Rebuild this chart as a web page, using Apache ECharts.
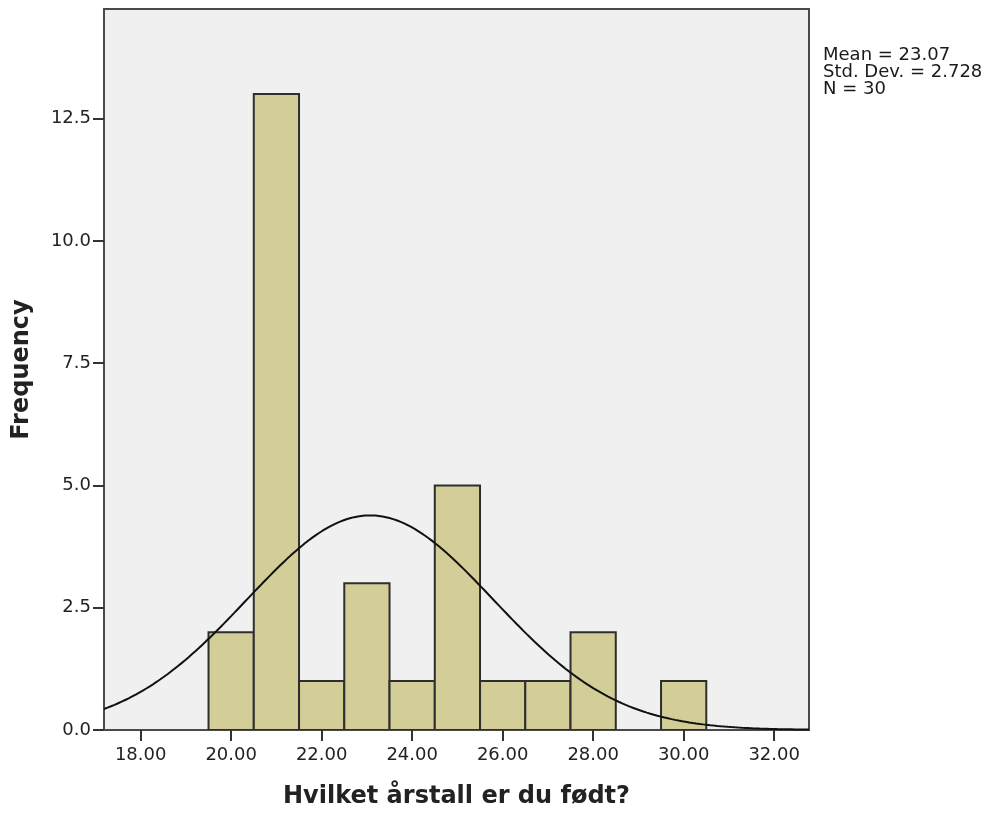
<!DOCTYPE html>
<html>
<head>
<meta charset="utf-8">
<script src="https://cdn.jsdelivr.net/npm/echarts@6/dist/echarts.min.js"></script>
<style>
html,body{margin:0;padding:0;background:#fff;}
#chart{width:990px;height:814px;}
</style>
</head>
<body>
<div id="chart"></div>
<script>
// Histogram bins (year values, bin width 1, centered on integers)
const binCenters = [20, 21, 22, 23, 24, 25, 26, 27, 28, 30];
const binCounts  = [2, 13, 1, 3, 1, 5, 1, 1, 2, 1];
const binWidth = 1;
// Summary statistics shown in the chart
const statMean = 23.07;
const statSD = 2.728;
const statN = 30;
// Tick labels
const xTicks = [18, 20, 22, 24, 26, 28, 30, 32];
const yTicks = [0, 2.5, 5, 7.5, 10, 12.5];

const xMin = 17.19, xMax = 32.77;
const yMin = 0, yMax = 14.74;

// Fitted normal curve (SPSS "display normal curve") from the stated mean/SD/N
const curve = [];
for (let i = 0; i <= 400; i++) {
  const x = xMin + (xMax - xMin) * i / 400;
  const z = (x - statMean) / statSD;
  curve.push([x, statN * binWidth * Math.exp(-0.5 * z * z) / (statSD * Math.sqrt(2 * Math.PI))]);
}

const barData = binCenters.map((c, i) => [c - binWidth / 2, c + binWidth / 2, binCounts[i]]);

const font = 'DejaVu Sans';
const chart = echarts.init(document.getElementById('chart'), null, {renderer: 'canvas'});
chart.setOption({
  animation: false,
  backgroundColor: '#ffffff',
  grid: {
    left: 104, right: 181, top: 9, bottom: 82,
    show: true, backgroundColor: '#f0f0f0', borderColor: '#4a4a4a', borderWidth: 2
  },
  xAxis: {
    type: 'value', min: xMin, max: xMax,
    name: 'Hvilket årstall er du født?', nameLocation: 'middle', nameGap: 55,
    nameTextStyle: {fontFamily: font, fontSize: 24, fontWeight: 'bold', color: '#222'},
    axisLine: {show: true, lineStyle: {color: '#4a4a4a', width: 2}},
    axisTick: {show: true, length: 11, customValues: xTicks, lineStyle: {color: '#333', width: 2}},
    axisLabel: {customValues: xTicks, margin: 16, fontFamily: font, fontSize: 18, color: '#222',
      formatter: v => v.toFixed(2)},
    splitLine: {show: false}
  },
  yAxis: {
    type: 'value', min: yMin, max: yMax,
    name: 'Frequency', nameLocation: 'middle', nameGap: 70, nameRotate: 90,
    nameTextStyle: {fontFamily: font, fontSize: 24, fontWeight: 'bold', color: '#222'},
    axisLine: {show: true, lineStyle: {color: '#4a4a4a', width: 2}},
    axisTick: {show: true, length: 11, customValues: yTicks, lineStyle: {color: '#333', width: 2}},
    axisLabel: {customValues: yTicks, margin: 13, fontFamily: font, fontSize: 18, color: '#222',
      formatter: v => v.toFixed(1)},
    splitLine: {show: false}
  },
  graphic: [{
    type: 'text', left: 823, top: 46,
    style: {
      text: 'Mean = ' + statMean.toFixed(2) + '\nStd. Dev. = ' + statSD.toFixed(3) + '\nN = ' + statN,
      fontFamily: font, fontSize: 18, lineHeight: 17, fill: '#1a1a1a'
    }
  }],
  series: [{
    type: 'custom',
    data: barData,
    clip: true,
    renderItem: function (params, api) {
      const p0 = api.coord([api.value(0), 0]);
      const p1 = api.coord([api.value(1), api.value(2)]);
      return {
        type: 'rect',
        shape: {x: p0[0], y: p1[1], width: p1[0] - p0[0], height: p0[1] - p1[1]},
        style: {fill: '#d3ce97', stroke: '#2e2e2e', lineWidth: 2}
      };
    },
    z: 2
  }, {
    type: 'line',
    data: curve,
    showSymbol: false,
    smooth: false,
    clip: true,
    lineStyle: {color: '#111', width: 2},
    z: 3
  }]
});
</script>
</body>
</html>
